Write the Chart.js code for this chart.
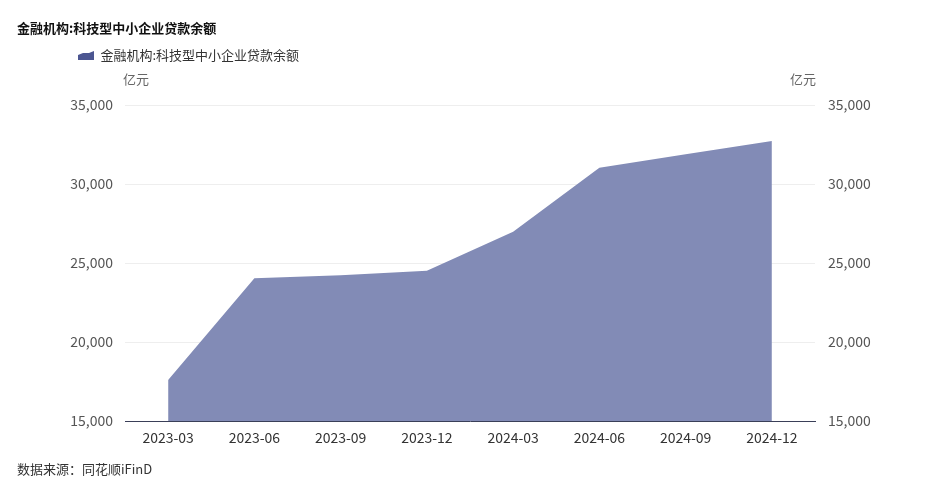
<!DOCTYPE html>
<html>
<head>
<meta charset="utf-8">
<script src="https://cdn.jsdelivr.net/npm/chart.js@4"></script>
<style>
  body { margin: 0; background: #fff; font-family: "Noto Sans CJK SC", sans-serif; }
  #wrap { position: relative; width: 940px; height: 498px; }
  #title { position: absolute; left: 17px; top: 18px; font-size: 13px; font-weight: bold; color: #111; }
  #source { position: absolute; left: 17px; top: 459px; font-size: 13px; color: #333; }
  canvas { position: absolute; left: 0; top: 0; }
</style>
</head>
<body>
<div id="wrap">
  <canvas id="chart" width="940" height="498"></canvas>
  <div id="title">金融机构:科技型中小企业贷款余额</div>
  <div id="source">数据来源：同花顺iFinD</div>
</div>
<script>
const seriesName = '金融机构:科技型中小企业贷款余额';
const quarters = ['2023-03', '2023-06', '2023-09', '2023-12', '2024-03', '2024-06', '2024-09', '2024-12'];
const loanBalance = [17590, 24030, 24220, 24510, 26980, 31030, 31880, 32720];
const unitLabel = '亿元';

const fontFamily = '"Noto Sans CJK SC", sans-serif';

// small area-shaped legend icon
const icon = document.createElement('canvas');
icon.width = 16;
icon.height = 9;
const ic = icon.getContext('2d');
ic.fillStyle = '#4c5691';
ic.beginPath();
ic.moveTo(0, 9);
ic.lineTo(0, 4);
ic.lineTo(5, 2);
ic.lineTo(11, 2);
ic.lineTo(16, 0);
ic.lineTo(16, 9);
ic.closePath();
ic.fill();

// push plot area down below the legend
const legendGap = {
  id: 'legendGap',
  beforeInit(chart) {
    const fit = chart.legend.fit;
    chart.legend.fit = function () {
      fit.bind(chart.legend)();
      this.height += 33;
    };
  }
};

// unit text above both y axes
const unitText = {
  id: 'unitText',
  afterDraw(chart) {
    const c = chart.ctx;
    const area = chart.chartArea;
    c.save();
    c.font = '13px ' + fontFamily;
    c.fillStyle = '#666';
    c.textBaseline = 'middle';
    c.textAlign = 'left';
    c.fillText(unitLabel, area.left - 2, area.top - 26);
    c.textAlign = 'right';
    c.fillText(unitLabel, area.right + 1, area.top - 26);
    c.restore();
  }
};

new Chart(document.getElementById('chart'), {
  type: 'line',
  data: {
    labels: quarters,
    datasets: [{
      label: seriesName,
      data: loanBalance,
      yAxisID: 'y',
      fill: 'start',
      backgroundColor: 'rgb(130,139,182)',
      borderWidth: 0,
      pointRadius: 0,
      tension: 0
    }]
  },
  options: {
    responsive: false,
    animation: false,
    layout: { padding: { left: 68, right: 40, top: 39, bottom: 47 } },
    plugins: {
      title: { display: false },
      tooltip: { enabled: false },
      legend: {
        position: 'top',
        align: 'start',
        labels: {
          usePointStyle: true,
          pointStyle: icon,
          pointStyleWidth: 16,
          padding: 10,
          color: '#333',
          font: { size: 13, family: fontFamily }
        }
      }
    },
    scales: {
      x: {
        offset: true,
        grid: { display: false, drawTicks: false },
        border: { display: true, color: '#3a3f58', width: 1 },
        ticks: { color: '#333', padding: 8, maxRotation: 0, font: { size: 14, family: fontFamily } },
        afterFit(s) { s.height = 30; }
      },
      y: {
        position: 'left',
        min: 15000,
        max: 35000,
        grid: { color: '#eeeeee', drawTicks: false },
        border: { display: false },
        ticks: { stepSize: 5000, color: '#555', padding: 12, font: { size: 14, family: fontFamily } },
        afterFit(s) { s.width = 57; }
      },
      y1: {
        position: 'right',
        min: 15000,
        max: 35000,
        grid: { display: false, drawTicks: false },
        border: { display: false },
        ticks: { stepSize: 5000, color: '#555', padding: 13, font: { size: 14, family: fontFamily } },
        afterFit(s) { s.width = 85; }
      }
    }
  },
  plugins: [legendGap, unitText]
});
</script>
</body>
</html>
